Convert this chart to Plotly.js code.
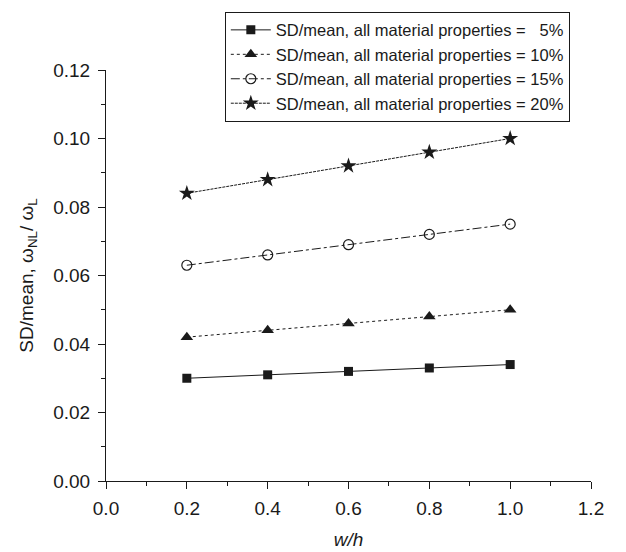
<!DOCTYPE html>
<html>
<head>
<meta charset="utf-8">
<script src="https://cdn.plot.ly/plotly-3.0.1.min.js"></script>
<style>
  html, body { margin: 0; padding: 0; background: #fff; }
  #chart { width: 626px; height: 552px; }
</style>
</head>
<body>
<div id="chart"></div>
<script>
// width-to-thickness ratios
const ratio = [0.2, 0.4, 0.6, 0.8, 1.0];

// SD/mean of the nonlinear-to-linear frequency ratio for each input scatter level
const sd5  = [0.030, 0.031, 0.032, 0.033, 0.034];
const sd10 = [0.042, 0.044, 0.046, 0.048, 0.050];
const sd15 = [0.063, 0.066, 0.069, 0.072, 0.075];
const sd20 = [0.084, 0.088, 0.092, 0.096, 0.100];

const seriesNames = [
  'SD/mean, all material properties = \u20075%',
  'SD/mean, all material properties = 10%',
  'SD/mean, all material properties = 15%',
  'SD/mean, all material properties = 20%'
];

const xTicks = [0, 0.2, 0.4, 0.6, 0.8, 1.0, 1.2];
const yTicks = [0, 0.02, 0.04, 0.06, 0.08, 0.10, 0.12];

const ink = '#1a1a1a';
const fontFamily = 'Liberation Sans, Arial, sans-serif';

function series(y, name, symbol, dash, size) {
  return {
    x: ratio, y: y, name: name, type: 'scatter', mode: 'lines+markers',
    line: { color: ink, width: 1, dash: dash },
    marker: { symbol: symbol, size: size, color: ink,
              line: { color: ink, width: symbol === 'circle-open' ? 1.2 : 0 } }
  };
}

const data = [
  series(sd5,  seriesNames[0], 'square', 'solid', 9),
  series(sd10, seriesNames[1], 'triangle-up', 'dot', 11),
  series(sd15, seriesNames[2], 'circle-open', 'dashdot', 10),
  series(sd20, seriesNames[3], 'star', '3px,1px', 12)
];

const layout = {
  width: 626, height: 552,
  margin: { l: 106, r: 35, t: 68, b: 71 },
  paper_bgcolor: '#fff', plot_bgcolor: '#fff',
  font: { family: fontFamily, size: 19, color: ink },
  showlegend: true,
  legend: {
    x: 0.245, y: 1.142, xanchor: 'left', yanchor: 'top',
    bgcolor: '#fff', bordercolor: ink, borderwidth: 1,
    font: { family: fontFamily, size: 16.5, color: ink },
    itemwidth: 40, tracegroupgap: 0
  },
  xaxis: {
    range: [0, 1.2], tickvals: xTicks,
    tickformat: '.1f', ticks: 'outside', ticklen: 7, tickwidth: 1, tickcolor: ink,
    ticklabelstandoff: 3,
    minor: { tickvals: [0.1, 0.3, 0.5, 0.7, 0.9, 1.1], ticks: 'outside', ticklen: 4, tickcolor: ink },
    showline: true, linecolor: ink, linewidth: 1, showgrid: false, zeroline: false,
    tickfont: { size: 19 },
    title: { text: '<i>w/h</i>', font: { size: 19 }, standoff: 14 }
  },
  yaxis: {
    range: [0, 0.12], tickvals: yTicks,
    tickformat: '.2f', ticks: 'outside', ticklen: 7, tickwidth: 1, tickcolor: ink,
    ticklabelstandoff: 4,
    minor: { tickvals: [0.01, 0.03, 0.05, 0.07, 0.09, 0.11], ticks: 'outside', ticklen: 4, tickcolor: ink },
    showline: true, linecolor: ink, linewidth: 1, showgrid: false, zeroline: false,
    tickfont: { size: 19 },
    title: { text: 'SD/mean, \u03C9<sub>NL</sub>/ \u03C9<sub>L</sub>', font: { size: 19 }, standoff: 14 }
  }
};

Plotly.newPlot('chart', data, layout, { displayModeBar: false, staticPlot: true });
</script>
</body>
</html>
